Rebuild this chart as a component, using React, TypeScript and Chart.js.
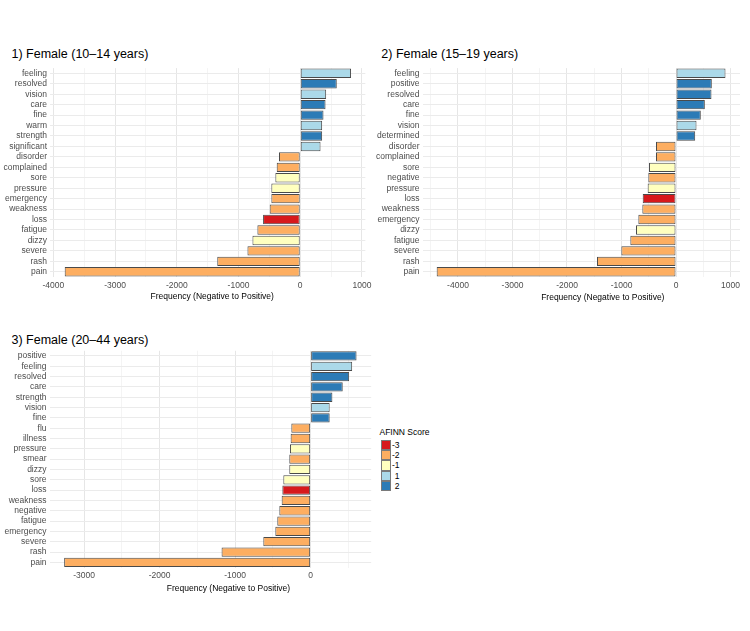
import React, { useEffect, useRef } from 'react';
import { Chart, registerables } from 'chart.js';
Chart.register(...registerables);

const FONT = '"Liberation Sans", Arial, Helvetica, sans-serif';

// Panel 1: Female (10–14 years)
const words1 = ['feeling', 'resolved', 'vision', 'care', 'fine', 'warm', 'strength', 'significant', 'disorder', 'complained', 'sore', 'pressure', 'emergency', 'weakness', 'loss', 'fatigue', 'dizzy', 'severe', 'rash', 'pain'];
const values1 = [823, 592, 420, 410, 377, 355, 355, 329, -344, -381, -403, -468, -468, -495, -602, -694, -774, -855, -1344, -3815];
const scores1 = [1, 2, 1, 2, 2, 1, 2, 1, -2, -2, -1, -1, -2, -2, -3, -2, -1, -2, -2, -2];
const gridTicks1 = [-4000, -3500, -3000, -2500, -2000, -1500, -1000, -500, 0, 500, 1000];

// Panel 2: Female (15–19 years)
const words2 = ['feeling', 'positive', 'resolved', 'care', 'fine', 'vision', 'determined', 'disorder', 'complained', 'sore', 'negative', 'pressure', 'loss', 'weakness', 'emergency', 'dizzy', 'fatigue', 'severe', 'rash', 'pain'];
const values2 = [908, 657, 651, 529, 455, 376, 352, -367, -367, -495, -508, -520, -611, -618, -691, -734, -838, -1003, -1450, -4391];
const scores2 = [1, 2, 2, 2, 2, 1, 2, -2, -2, -1, -2, -1, -3, -2, -2, -1, -2, -2, -2, -2];
const gridTicks2 = [-4500, -4000, -3500, -3000, -2500, -2000, -1500, -1000, -500, 0, 500, 1000];

// Panel 3: Female (20–44 years)
const words3 = ['positive', 'feeling', 'resolved', 'care', 'strength', 'vision', 'fine', 'flu', 'illness', 'pressure', 'smear', 'dizzy', 'sore', 'loss', 'weakness', 'negative', 'fatigue', 'emergency', 'severe', 'rash', 'pain'];
const values3 = [608, 550, 510, 425, 288, 252, 252, -256, -265, -274, -283, -283, -362, -375, -384, -415, -442, -468, -627, -1180, -3265];
const scores3 = [2, 1, 2, 2, 2, 1, 2, -2, -2, -1, -2, -1, -1, -3, -2, -2, -2, -2, -2, -2, -2];
const gridTicks3 = [-3000, -2500, -2000, -1500, -1000, -500, 0, 500];

const titles = ['1) Female (10–14 years)', '2) Female (15–19 years)', '3) Female (20–44 years)'];
const xAxisTitle = 'Frequency (Negative to Positive)';
const legendTitle = 'AFINN Score';
const scoreLevels = [-3, -2, -1, 1, 2];
const scoreColors = ['#D7191C', '#FDAE61', '#FFFFBF', '#ABD9E9', '#2C7BB6'];

const colorFor = (s: number) => scoreColors[scoreLevels.indexOf(s)];
const isMajor = (v: number) => Math.abs(v % 1000) < 1e-6;

type Box = { left: number; top: number; width: number; height: number };
type Area = { left: number; right: number; top: number; bottom: number };

function Panel(props: { words: string[]; values: number[]; scores: number[]; gridTicks: number[]; xMin: number; xMax: number; box: Box; area: Area }) {
  const ref = useRef<HTMLCanvasElement | null>(null);
  const { words, values, scores, gridTicks, xMin, xMax, box, area } = props;
  useEffect(() => {
    if (!ref.current) return;
    const chart = new Chart(ref.current, {
      type: 'bar',
      data: {
        labels: words,
        datasets: [
          {
            data: values,
            backgroundColor: scores.map(colorFor),
            borderColor: '#4a4a4a',
            borderWidth: 1,
            borderSkipped: false,
            barPercentage: 0.9,
            categoryPercentage: 1,
          },
        ],
      },
      options: {
        indexAxis: 'y',
        responsive: false,
        animation: false,
        devicePixelRatio: 1,
        layout: {
          padding: {
            left: 0,
            top: area.top - box.top,
            right: box.left + box.width - area.right,
            bottom: 0,
          },
        },
        plugins: { legend: { display: false }, tooltip: { enabled: false } },
        scales: {
          x: {
            type: 'linear',
            position: 'bottom',
            min: xMin,
            max: xMax,
            border: { display: false },
            afterBuildTicks: (s: any) => {
              s.ticks = gridTicks.map((v) => ({ value: v }));
            },
            grid: {
              drawTicks: false,
              color: (ctx: any) => (ctx.tick && isMajor(ctx.tick.value) ? '#E6E6E6' : '#EFEFEF'),
              lineWidth: (ctx: any) => (ctx.tick && isMajor(ctx.tick.value) ? 1 : 0.7),
            },
            ticks: {
              autoSkip: false,
              maxRotation: 0,
              padding: 3.5,
              color: '#4D4D4D',
              font: { family: FONT, size: 8.5 },
              callback: (v: any) => (isMajor(Number(v)) ? String(v) : ''),
            },
            afterFit: (s: any) => {
              s.height = box.top + box.height - area.bottom;
            },
          },
          y: {
            type: 'category',
            border: { display: false },
            grid: { drawTicks: false, offset: false, color: '#EBEBEB', lineWidth: 1 },
            ticks: {
              autoSkip: false,
              padding: 3,
              color: '#4D4D4D',
              font: { family: FONT, size: 8.5 },
            },
            afterFit: (s: any) => {
              s.width = area.left - box.left;
            },
          },
        },
      },
    } as any);
    return () => chart.destroy();
  }, []);
  return (
    <canvas
      ref={ref}
      width={box.width}
      height={box.height}
      style={{ position: 'absolute', left: box.left, top: box.top, width: box.width, height: box.height }}
    />
  );
}

const textBase: React.CSSProperties = { position: 'absolute', fontFamily: FONT, color: '#000', whiteSpace: 'nowrap' };

function Title(props: { text: string; left: number; top: number }) {
  return <div style={{ ...textBase, left: props.left, top: props.top, fontSize: 12.5, lineHeight: '12px' }}>{props.text}</div>;
}

function AxisTitle(props: { cx: number; cy: number }) {
  return (
    <div style={{ ...textBase, left: props.cx - 150, width: 300, textAlign: 'center', top: props.cy - 5, fontSize: 8.5, lineHeight: '10px' }}>
      {xAxisTitle}
    </div>
  );
}

export default function App() {
  useEffect(() => {
    document.body.style.margin = '0';
  }, []);
  return (
    <div style={{ position: 'absolute', left: 0, top: 0, width: 750, height: 631, background: '#fff', overflow: 'hidden' }}>
      <Title text={titles[0]} left={11.5} top={48} />
      <Title text={titles[1]} left={381.3} top={48} />
      <Title text={titles[2]} left={11.5} top={334.3} />
      <Panel words={words1} values={values1} scores={scores1} gridTicks={gridTicks1} xMin={-4053} xMax={1055}
        box={{ left: 0, top: 60, width: 375, height: 240 }} area={{ left: 50, right: 368, top: 65.4, bottom: 277 }} />
      <Panel words={words2} values={values2} scores={scores2} gridTicks={gridTicks2} xMin={-4651} xMax={1174}
        box={{ left: 375, top: 60, width: 375, height: 240 }} area={{ left: 422.5, right: 740, top: 65.4, bottom: 277 }} />
      <Panel words={words3} values={values3} scores={scores3} gridTicks={gridTicks3} xMin={-3459} xMax={802}
        box={{ left: 0, top: 340, width: 375, height: 250 }} area={{ left: 49.5, right: 371.2, top: 350.8, bottom: 567.5 }} />
      <AxisTitle cx={212.2} cy={296} />
      <AxisTitle cx={602.8} cy={296.5} />
      <AxisTitle cx={228.5} cy={588.3} />
      <div style={{ ...textBase, left: 379.5, top: 426.7, fontSize: 8.5, lineHeight: '10px' }}>{legendTitle}</div>
      {scoreLevels.map((s, i) => (
        <React.Fragment key={s}>
          <div
            style={{
              position: 'absolute',
              left: 381,
              top: 440 + i * 10.2,
              width: 9.5,
              height: 10.2,
              boxSizing: 'border-box',
              background: scoreColors[i],
              border: '0.8px solid #7a7a7a',
            }}
          />
          <div style={{ ...textBase, left: 390, width: 9.5, textAlign: 'right', top: 440 + i * 10.2, fontSize: 8.5, lineHeight: '10.2px' }}>
            {String(s)}
          </div>
        </React.Fragment>
      ))}
    </div>
  );
}
